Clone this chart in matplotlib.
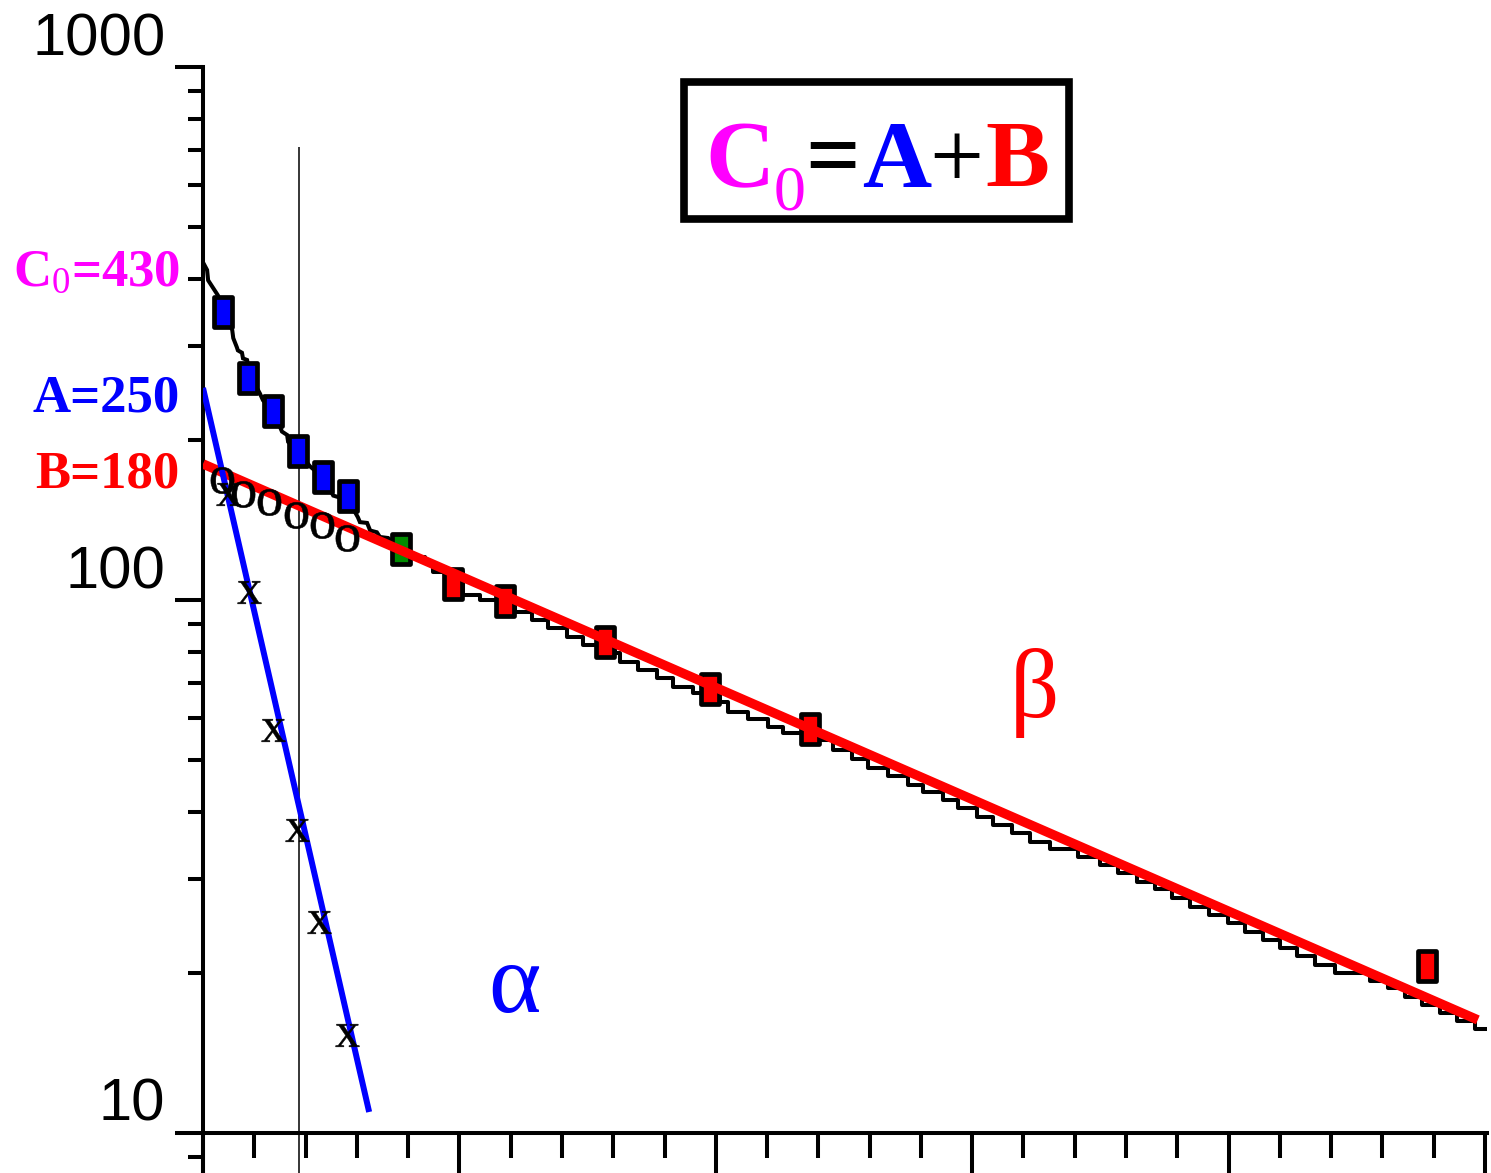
import matplotlib.pyplot as plt
from matplotlib.path import Path
from matplotlib.patches import Rectangle
from matplotlib.ticker import LogLocator, NullFormatter

plt.rcParams['font.family'] = 'Liberation Sans'
plt.rcParams['mathtext.fontset'] = 'custom'
plt.rcParams['mathtext.rm'] = 'Liberation Serif'
plt.rcParams['mathtext.it'] = 'Liberation Serif:italic'
plt.rcParams['mathtext.bf'] = 'Liberation Serif:bold'

MAGENTA = '#ff00ff'
BLUE = '#0000ff'
RED = '#ff0000'
GREEN = '#008c00'

# initial activities
C0, A, B = 430, 250, 180

# total counts C(t): early part, then the counter staircase
early_t = [0.0, 0.08, 0.10, 0.29, 0.41, 0.57, 0.59, 0.66, 0.68, 0.76, 0.78, 0.86,
           0.92, 1.07, 1.11, 1.17, 1.37, 1.54, 1.64, 1.66, 1.85, 2.09, 2.34, 2.54,
           2.83, 3.02, 3.06, 3.20, 3.26, 3.39, 3.45, 3.61, 3.86, 4.10]
early_c = [430, 416, 398, 373, 347, 321, 310, 298, 294, 291, 284, 282,
           261, 248, 244, 237, 226, 207, 204, 198, 190, 178, 170, 157,
           154, 143, 140, 139.5, 135, 134, 131.3, 130.7, 124.6, 120.4]

step_t = [4.10, 4.33, 4.49, 5.07, 5.40, 6.08, 6.42, 6.73, 7.10, 7.41, 8.03, 8.13,
          8.48, 8.85, 9.17, 9.56, 10.08, 10.24, 10.63, 11.02, 11.31, 12.03, 12.29,
          12.66, 12.97, 13.36, 13.75, 14.04, 14.43, 14.72, 15.09, 15.41, 15.78,
          16.13, 16.52, 17.06, 17.49, 17.84, 18.21, 18.57, 18.90, 19.25, 19.62,
          19.99, 20.32, 20.67, 21.00, 21.33, 21.69, 22.08, 22.76, 23.11, 23.44,
          23.77, 24.12, 24.45, 24.81, 25.00]
step_c = [120.4, 117.3, 112.9, 102.2, 100.0, 95.0, 91.7, 88.6, 85.2, 82.3, 79.5, 76.5,
          73.9, 71.4, 68.7, 66.9, 64.4, 61.7, 59.8, 57.8, 56.3, 54.6, 52.3,
          50.3, 48.4, 46.8, 45.0, 43.6, 42.2, 40.7, 39.2, 37.8, 36.5,
          35.2, 34.1, 32.9, 31.8, 30.7, 29.6, 28.7, 27.6, 26.5, 25.6,
          24.8, 23.8, 23.0, 22.2, 21.5, 20.7, 20.0, 19.3, 18.7, 18.0,
          17.4, 16.8, 16.2, 15.7, 15.7]

# sampled points
blue_t = [0.39, 0.88, 1.37, 1.85, 2.34, 2.83]
blue_c = [347, 261, 226, 190, 170, 157]
green_t = [3.86]
green_c = [124.6]
red_t = [4.88, 5.89, 7.84, 9.89, 11.84, 23.87]
red_c = [107.2, 99.6, 83.4, 68.1, 57.3, 20.6]

# fitted components
beta_t = [0.0, 24.86]
beta_c = [B, 16.3]
alpha_t = [0.0, 3.24]
alpha_c = [A, 10.95]

# slow part (o) and difference C - B (x)
o_t = [0.37, 0.78, 1.29, 1.81, 2.32, 2.81]
o_c = [168, 158, 152.7, 144.4, 138.2, 130.7]
x_t = [0.49, 0.90, 1.37, 1.83, 2.26, 2.81]
x_c = [158, 103.5, 57.0, 37.0, 24.9, 15.3]

split_t = 1.87
split_top = 708

fig = plt.figure(figsize=(14.91, 11.73), dpi=100)
ax = fig.add_axes([0.13615, 0.0, 0.8612, 0.94288])
ax.set_yscale('log')
ax.set_xlim(0, 25.04)
ax.set_ylim(8.413, 1000)

rect = Path([(-0.31, -0.5), (0.31, -0.5), (0.31, 0.5), (-0.31, 0.5), (-0.31, -0.5)],
            [Path.MOVETO, Path.LINETO, Path.LINETO, Path.LINETO, Path.CLOSEPOLY])

ax.vlines(split_t, 1, split_top, color='black', lw=1.1, zorder=1)
ax.plot(early_t, early_c, color='black', lw=2.9, zorder=2, solid_joinstyle='miter')
ax.step(step_t, step_c, where='post', color='black', lw=2.9, zorder=2)

sq = dict(marker=rect, ms=21, mec='black', mew=3.4, ls='none', zorder=3)
ax.plot(blue_t, blue_c, mfc=BLUE, **sq)
ax.plot(green_t, green_c, mfc=GREEN, **sq)
ax.plot(red_t, red_c, mfc=RED, **sq)

ax.plot(beta_t, beta_c, color=RED, lw=6.8, zorder=4, solid_capstyle='butt')
ax.plot(alpha_t, alpha_c, color=BLUE, lw=4.3, zorder=4, solid_capstyle='butt')

ax.plot(o_t, o_c, marker=r'$\mathrm{o}$', ms=19, color='black', mew=0.4, ls='none', zorder=5)
ax.plot(x_t, x_c, marker=r'$\mathrm{x}$', ms=17, color='black', mew=0.4, ls='none', zorder=5)

ax.text(6.08, 18.7, 'α', color=BLUE, fontsize=72, family='Liberation Serif',
        ha='center', va='center')
ax.text(16.22, 66.9, 'β', color=RED, fontsize=70, family='Liberation Serif',
        ha='center', va='center')

# axes styling
for side in ['top', 'right']:
    ax.spines[side].set_visible(False)
ax.spines['left'].set_linewidth(2.9)
ax.spines['bottom'].set_linewidth(2.9)
ax.spines['bottom'].set_position(('data', 10))

ax.set_yticks([10, 100, 1000])
ax.set_yticklabels(['10', '100', '1000'], fontsize=43, va='bottom')
ax.yaxis.set_minor_locator(LogLocator(base=10, subs=range(2, 10)))
ax.yaxis.set_minor_formatter(NullFormatter())
ax.tick_params(axis='y', which='major', length=20, width=2.9, pad=7)
ax.tick_params(axis='y', which='minor', length=11, width=2.9)

ax.set_xticks(range(0, 26, 5))
ax.set_xticks(range(26), minor=True)
ax.tick_params(axis='x', which='major', length=36, width=2.9, labelbottom=False)
ax.tick_params(axis='x', which='minor', length=18, width=2.9)

# values at t = 0
ytrans = ax.get_yaxis_transform()
for text, val, col in [(f'C$_0$={C0}', C0, MAGENTA), (f'A={A}', A, BLUE), (f'B={B}', B, RED)]:
    ax.annotate(text, xy=(-0.018, val), xycoords=ytrans, xytext=(0, -17),
                textcoords='offset points', ha='right', va='baseline', fontsize=38,
                fontweight='bold', family='Liberation Serif', color=col,
                annotation_clip=False)

# boxed relation C0 = A + B
fig.add_artist(Rectangle((0.4588, 0.8133), 0.2582, 0.1168, transform=fig.transFigure,
                         fill=False, ec='black', lw=5.5, joinstyle='miter'))
pieces = [
    (0.4728, 0.8406, 'C', MAGENTA, 69, 'bold'),
    (0.5191, 0.8210, '0', MAGENTA, 46, 'normal'),
    (0.5399, 0.8406, '=', 'black', 69, 'bold'),
    (0.5781, 0.8406, 'A', BLUE, 69, 'bold'),
    (0.6231, 0.8406, '+', 'black', 69, 'normal'),
    (0.6606, 0.8406, 'B', RED, 69, 'bold'),
]
for px, py, s, col, size, weight in pieces:
    fig.text(px, py, s, color=col, fontsize=size, fontweight=weight,
             family='Liberation Serif', ha='left', va='baseline')

fig.savefig('out.png', dpi=100)
